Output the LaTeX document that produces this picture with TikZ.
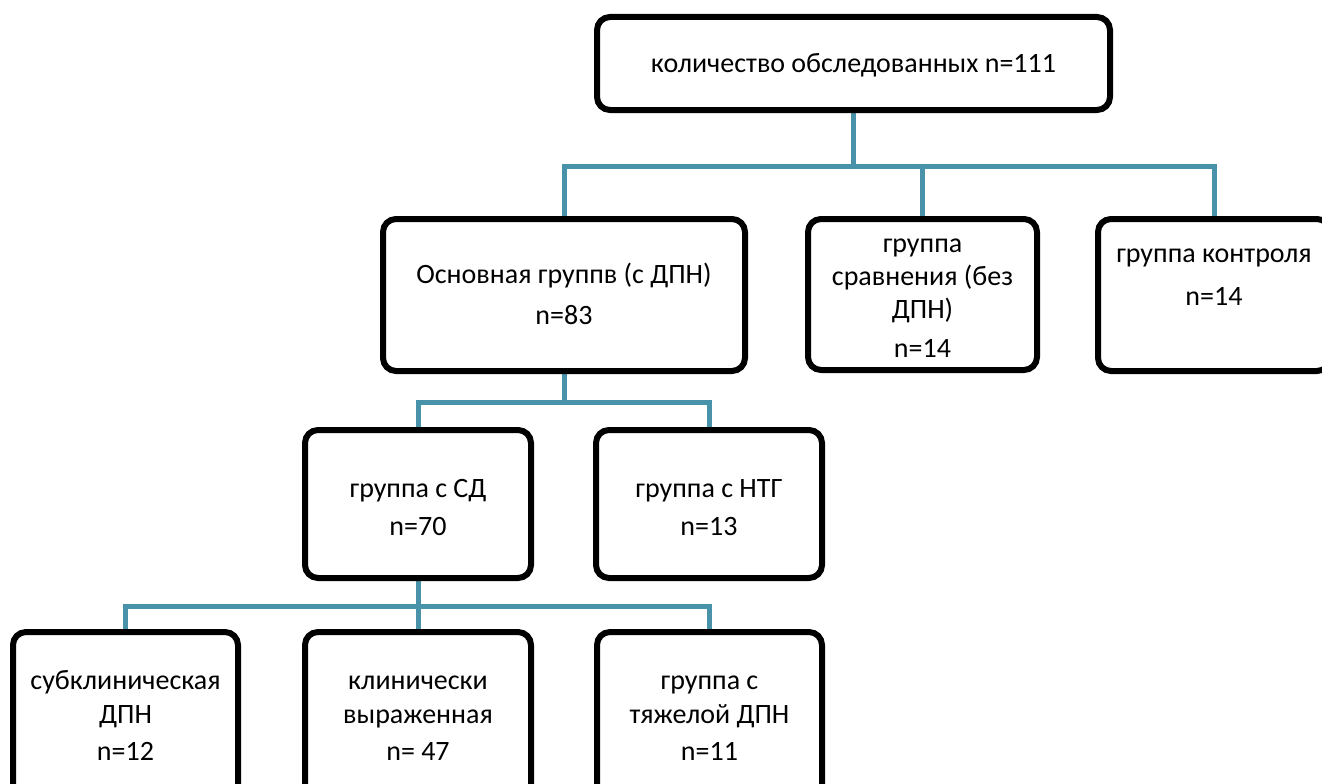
\documentclass[tikz,border=0pt]{standalone}
\usepackage{fontspec}
\setmainfont{Carlito}
\usetikzlibrary{backgrounds}
\definecolor{conncol}{RGB}{72,146,170}
\tikzset{
  box/.style={draw=black, line width=6pt, rounded corners=13pt, fill=white, inner sep=0pt},
  conn/.style={draw=conncol, line width=5pt},
  txt/.style={inner sep=0pt, anchor=base, font=\fontsize{28}{34}\selectfont}
}
\begin{document}
\begin{tikzpicture}[x=1pt,y=-1pt]
\useasboundingbox (0,0) rectangle (1322,784);
\clip (0,0) rectangle (1322,784);
% boxes
\node[box, minimum width=513pt, minimum height=93pt] (top) at (853.5,63.5) {};
\node[box, minimum width=362pt, minimum height=152pt] (main) at (564,295) {};
\node[box, minimum width=229pt, minimum height=151pt] (comp) at (922.5,294.5) {};
\node[box, minimum width=232pt, minimum height=152pt] (ctrl) at (1214,295) {};
\node[box, minimum width=226pt, minimum height=148pt] (sd) at (418,504) {};
\node[box, minimum width=226pt, minimum height=148pt] (ntg) at (709,504) {};
\node[box, minimum width=225pt, minimum height=190pt] (b1) at (125.5,727) {};
\node[box, minimum width=226pt, minimum height=190pt] (b2) at (418,727) {};
\node[box, minimum width=225pt, minimum height=190pt] (b3) at (709.5,727) {};
% texts
\node[txt] (ttop) at (853.5,73) {количество обследованных n=111};
\node[txt] (tmain1) at (564,283) {Основная группв (с ДПН)};
\node[txt] (tmain2) at (564,324) {n=83};
\node[txt] (tcomp1) at (922.5,252) {группа};
\node[txt] (tcomp2) at (922.5,285) {сравнения (без};
\node[txt] (tcomp3) at (922.5,318) {ДПН)};
\node[txt] (tcomp4) at (922.5,357) {n=14};
\node[txt] (tctrl1) at (1214,262) {группа контроля};
\node[txt] (tctrl2) at (1214,305) {n=14};
\node[txt] (tsd1) at (418,497) {группа с СД};
\node[txt] (tsd2) at (418,535) {n=70};
\node[txt] (tntg1) at (709,497) {группа с НТГ};
\node[txt] (tntg2) at (709,535) {n=13};
\node[txt] (tb11) at (125.5,689) {субклиническая};
\node[txt] (tb12) at (125.5,723) {ДПН};
\node[txt] (tb13) at (125.5,760) {n=12};
\node[txt] (tb21) at (418,689) {клинически};
\node[txt] (tb22) at (418,723) {выраженная};
\node[txt] (tb23) at (418,760) {n= 47};
\node[txt] (tb31) at (709.5,689) {группа с};
\node[txt] (tb32) at (709.5,723) {тяжелой ДПН};
\node[txt] (tb33) at (709.5,760) {n=11};
% connectors
\begin{scope}[on background layer]
\draw[conn] (top.south) -- (top.south |- 0,166) -| (main.north);
\draw[conn] (top.south |- 0,166) -| (comp.north);
\draw[conn] (top.south |- 0,166) -| (ctrl.north);
\draw[conn] (main.south) -- (main.south |- 0,402) -| (sd.north);
\draw[conn] (main.south |- 0,402) -| (ntg.north);
\draw[conn] (sd.south) -- (sd.south |- 0,606) -| (b1.north);
\draw[conn] (sd.south |- 0,606) -- (b2.north);
\draw[conn] (sd.south |- 0,606) -| (b3.north);
\end{scope}
\end{tikzpicture}
\end{document}
